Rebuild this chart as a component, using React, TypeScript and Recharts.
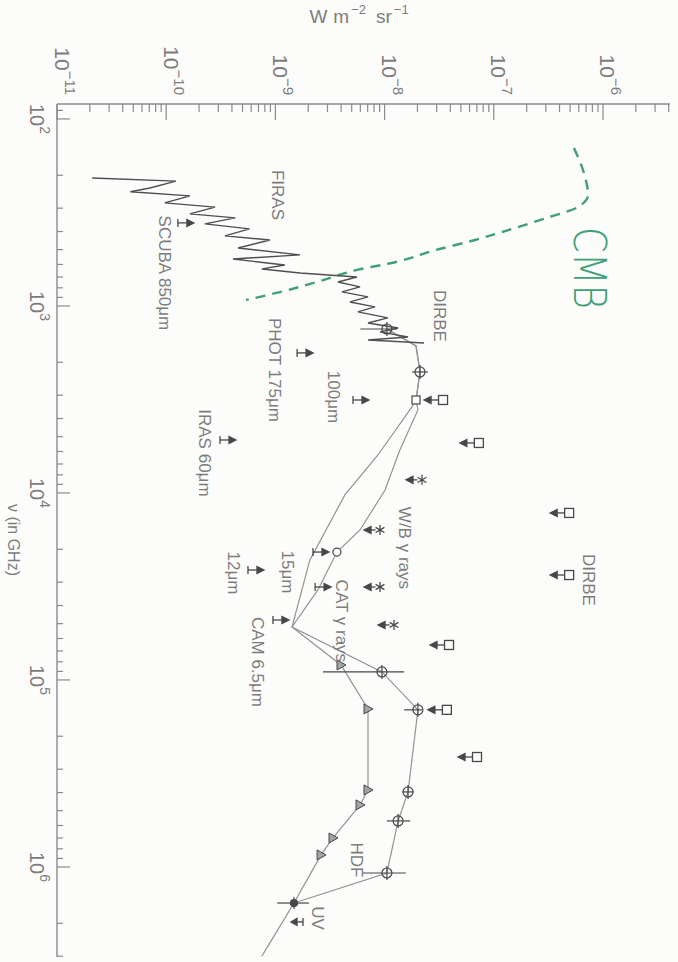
import React from 'react';
import { ComposedChart, Line, Scatter, XAxis, YAxis, ErrorBar } from 'recharts';

// Figure is a scanned plot turned 90° clockwise: we draw it upright and rotate the whole chart.
const FONT = '"Liberation Sans", Arial, sans-serif';
const INK = '#474747';
const CURVE = '#939393';
const FRAME = '#8a8a8a';
const TEXT = '#7c7c7c';
const CMB_GREEN = '#3f9f78';
const BG = '#fcfcfa';

// axis ranges (log scales)
const NU_MIN = 83.2;
const NU_MAX = 3.03e6;
const I_MIN = 1e-11;
const I_MAX = 4.11e-6;

const nuMajor = [1e2, 1e3, 1e4, 1e5, 1e6];
const nuMajorLabels = ['2', '3', '4', '5', '6'];
const iMajor = [1e-11, 1e-10, 1e-9, 1e-8, 1e-7, 1e-6];
const iMajorLabels = ['−11', '−10', '−9', '−8', '−7', '−6'];

// FIRAS spectrum (GHz, W m^-2 sr^-1)
const firasNu = [207, 215, 234, 245, 258, 281, 296, 322, 338, 364, 387, 422, 444, 490, 533, 561, 604, 634, 666, 700, 745, 791, 841, 895, 952, 1012, 1076, 1159, 1233, 1312, 1377, 1465, 1520, 1578];
const firasI = [2.1e-11, 1.23e-10, 7.1e-11, 4.7e-11, 1.65e-10, 9.7e-11, 2.8e-10, 1.65e-10, 4.3e-10, 2.26e-10, 5.8e-10, 3.45e-10, 8.9e-10, 4.55e-10, 1.68e-9, 4.09e-10, 1.22e-9, 7.53e-10, 1.68e-9, 5.58e-9, 3.74e-9, 5.96e-9, 4.07e-9, 7.05e-9, 4.82e-9, 8.17e-9, 5.7e-9, 1.07e-8, 7.05e-9, 1.33e-8, 9.08e-9, 1.64e-8, 7.05e-9, 2.3e-8];

// hand-drawn CMB curve
const cmbNu = [143, 195, 255, 296, 334, 383, 444, 502, 582, 642, 745, 841, 929];
const cmbI = [5.42e-7, 6.7e-7, 7.3e-7, 5.9e-7, 3.27e-7, 1.56e-7, 6.73e-8, 2.96e-8, 1.27e-8, 5.58e-9, 2.4e-9, 1.12e-9, 5.38e-10];

// model curves
const upperNu = [1328, 1636, 2254, 3183, 3597, 5888, 9637, 15770, 20700, 33000, 52100, 90600, 144500, 397000, 567500, 1077000, 1559000];
const upperI = [1.05e-8, 1.94e-8, 2.11e-8, 1.94e-8, 2.02e-8, 1.38e-8, 1.01e-8, 5.96e-9, 3.66e-9, 2.45e-9, 1.42e-9, 9.46e-9, 2.02e-8, 1.64e-8, 1.33e-8, 1.05e-8, 1.48e-9];
const lowerNu = [1328, 1636, 2254, 3183, 3467, 6266, 10250, 22810, 52100, 83180, 142900, 387300, 465600, 699800, 862400, 1559000, 2547000, 3000000];
const lowerI = [1.05e-8, 1.94e-8, 2.11e-8, 1.94e-8, 1.78e-8, 8.7e-9, 4.33e-9, 2.07e-9, 1.42e-9, 3.99e-9, 7.05e-9, 7.05e-9, 5.96e-9, 3.37e-9, 2.62e-9, 1.48e-9, 8.9e-10, 7.5e-10];

// DIRBE upper limits
const dirbeUlNu = [3183, 5404, 12790, 27470, 65000, 144500, 258200];
const dirbeUlI = [3.43e-8, 7.3e-8, 4.9e-7, 4.9e-7, 3.89e-8, 3.72e-8, 7.02e-8];

// gamma-ray upper limits
const gammaNu = [8511, 15770, 31840, 50800];
const gammaI = [2.2e-8, 9.08e-9, 9.08e-9, 1.22e-8];

// lower limits from source counts
const lowLimNu = [360, 1783, 3183, 5209, 20700, 25820, 31840, 47780];
const lowLimI = [1.28e-10, 1.58e-9, 5.14e-9, 3.11e-10, 2.21e-9, 5.61e-10, 2.31e-9, 9.5e-10];

// detections with error bars
const detNu = [1328, 2254, 90600, 144500, 397000, 567500, 1077000];
const detI = [1.05e-8, 2.11e-8, 9.46e-9, 2.02e-8, 1.64e-8, 1.33e-8, 1.05e-8];
const detLo = [6.0e-9, 1.78e-8, 2.73e-9, 1.51e-8, 1.45e-8, 1.05e-8, 6.34e-9];
const detHi = [1.3e-8, 2.5e-8, 1.51e-8, 2.2e-8, 1.85e-8, 1.72e-8, 1.57e-8];

// triangles along lower curve
const triNu = [83180, 142900, 387300, 465600, 699800, 862400];
const triI = [3.99e-9, 7.05e-9, 7.05e-9, 5.96e-9, 3.37e-9, 2.62e-9];

// UV
const uvNu = [1559000];
const uvI = [1.48e-9];
const uvLo = [1.04e-9];
const uvHi = [2.03e-9];
const uvUlNu = [1968000];
const uvUlI = [1.79e-9];

// open model markers
const openCircleNu = [20700];
const openCircleI = [3.66e-9];
const openSquareNu = [3183];
const openSquareI = [1.94e-8];

// annotations
const labelText = ['FIRAS', 'SCUBA 850μm', 'DIRBE', 'PHOT 175μm', '100μm', 'IRAS 60μm', 'W/B γ rays', '15μm', '12μm', 'CAT γ rays', 'CAM 6.5μm', 'DIRBE', 'HDF', 'UV'];
const labelNu = [255, 666, 1131, 2198, 3067, 6109, 19680, 26450, 26790, 48310, 80140, 29190, 918000, 1875000];
const labelI = [1.04e-9, 9.7e-11, 3.21e-8, 9.9e-10, 3.37e-9, 2.22e-10, 1.51e-8, 1.3e-9, 4.09e-10, 3.99e-9, 6.8e-10, 7.3e-7, 5.58e-9, 2.45e-9];

const pts = (nu: number[], I: number[]) => nu.map((n, i) => ({ nu: n, I: I[i] }));

function minorTicks(lo: number, hi: number) {
  const out: number[] = [];
  for (let e = Math.floor(Math.log10(lo)); e <= Math.ceil(Math.log10(hi)); e++) {
    for (let m = 2; m <= 9; m++) {
      const v = Number((m * Math.pow(10, e)).toPrecision(6));
      if (v > lo && v < hi) out.push(v);
    }
  }
  return out;
}
const nuTicks = [...nuMajor, ...minorTicks(NU_MIN, NU_MAX)].sort((a, b) => a - b);
const iTicks = [...iMajor, ...minorTicks(I_MIN, I_MAX)].sort((a, b) => a - b);
const majorIdx = (list: number[], v: number) => list.findIndex((m) => Math.abs(m / v - 1) < 1e-6);

const NuBottomTick = (p: any) => {
  const k = majorIdx(nuMajor, p.payload.value);
  return (
    <g>
      <line x1={p.x} y1={p.y} x2={p.x} y2={p.y - (k >= 0 ? 13 : 6)} stroke={FRAME} strokeWidth={1.2} />
      {k >= 0 && (
        <text x={p.x} y={p.y + 20} textAnchor="middle" dominantBaseline="central" fontFamily={FONT} fontSize={20} fill={TEXT}>
          10<tspan dy={-8} fontSize={14}>{nuMajorLabels[k]}</tspan>
        </text>
      )}
    </g>
  );
};

const NuTopTick = (p: any) => {
  const k = majorIdx(nuMajor, p.payload.value);
  return <line x1={p.x} y1={p.y} x2={p.x} y2={p.y + (k >= 0 ? 13 : 6)} stroke={FRAME} strokeWidth={1.2} />;
};

const ILeftTick = (p: any) => {
  const k = majorIdx(iMajor, p.payload.value);
  return (
    <g>
      <line x1={p.x} y1={p.y} x2={p.x + (k >= 0 ? 16 : 8)} y2={p.y} stroke={FRAME} strokeWidth={1.2} />
      {k >= 0 && (
        <text x={p.x - 9} y={p.y - 5} textAnchor="end" dominantBaseline="central" fontFamily={FONT} fontSize={21} fill={TEXT}>
          10<tspan dy={-9} fontSize={15}>{iMajorLabels[k]}</tspan>
        </text>
      )}
    </g>
  );
};

const IRightTick = (p: any) => {
  const k = majorIdx(iMajor, p.payload.value);
  return <line x1={p.x} y1={p.y} x2={p.x - (k >= 0 ? 16 : 8)} y2={p.y} stroke={FRAME} strokeWidth={1.2} />;
};

const NuTitle = () => (
  <text x={540} y={665} textAnchor="middle" dominantBaseline="central" fontFamily={FONT} fontSize={16} fill={TEXT}>
    ν (in GHz)
  </text>
);

const ITitle = () => (
  <text x={16} y={319} transform="rotate(-90 16 319)" textAnchor="middle" dominantBaseline="central" fontFamily={FONT} fontSize={19} fill={TEXT}>
    W<tspan dx={6}>m</tspan>
    <tspan dx={2} dy={-7} fontSize={13}>−2</tspan>
    <tspan dx={10} dy={7}>sr</tspan>
    <tspan dx={2} dy={-7} fontSize={13}>−1</tspan>
  </text>
);

const UpperSquare = ({ cx, cy }: any) => (
  <g stroke={INK} strokeWidth={1.3}>
    <rect x={cx - 4.5} y={cy - 4.5} width={9} height={9} fill="none" />
    <line x1={cx} y1={cy + 4.5} x2={cx} y2={cy + 13} />
    <path d={`M${cx - 3.5},${cy + 12} L${cx + 3.5},${cy + 12} L${cx},${cy + 19} Z`} fill={INK} />
  </g>
);

const UpperStar = ({ cx, cy }: any) => (
  <g stroke={INK} strokeWidth={1.3}>
    <line x1={cx - 5} y1={cy} x2={cx + 5} y2={cy} />
    <line x1={cx - 2.6} y1={cy - 4.4} x2={cx + 2.6} y2={cy + 4.4} />
    <line x1={cx + 2.6} y1={cy - 4.4} x2={cx - 2.6} y2={cy + 4.4} />
    <line x1={cx} y1={cy + 4.5} x2={cx} y2={cy + 10} />
    <path d={`M${cx - 3.5},${cy + 9} L${cx + 3.5},${cy + 9} L${cx},${cy + 16} Z`} fill={INK} />
  </g>
);

const LowerLimit = ({ cx, cy }: any) => (
  <g stroke={INK} strokeWidth={1.3}>
    <line x1={cx - 4} y1={cy} x2={cx + 4} y2={cy} />
    <line x1={cx} y1={cy} x2={cx} y2={cy - 9} />
    <path d={`M${cx - 3.5},${cy - 9} L${cx + 3.5},${cy - 9} L${cx},${cy - 16} Z`} fill={INK} />
  </g>
);

const UpperBar = ({ cx, cy }: any) => (
  <g stroke={INK} strokeWidth={1.3}>
    <line x1={cx - 4} y1={cy} x2={cx + 4} y2={cy} />
    <line x1={cx} y1={cy} x2={cx} y2={cy + 6} />
    <path d={`M${cx - 3.5},${cy + 6} L${cx + 3.5},${cy + 6} L${cx},${cy + 12} Z`} fill={INK} />
  </g>
);

const CirclePlus = ({ cx, cy }: any) => (
  <g stroke={INK} strokeWidth={1.2} fill="none">
    <circle cx={cx} cy={cy} r={5} />
    <line x1={cx - 7} y1={cy} x2={cx + 7} y2={cy} />
  </g>
);

const Tri = ({ cx, cy }: any) => (
  <path d={`M${cx},${cy - 5} L${cx + 5},${cy + 4} L${cx - 5},${cy + 4} Z`} fill="#a3a3a3" stroke={INK} strokeWidth={1} />
);

const UvDot = ({ cx, cy }: any) => (
  <g stroke={INK} strokeWidth={1.2}>
    <circle cx={cx} cy={cy} r={3.5} fill={INK} />
    <line x1={cx - 6} y1={cy} x2={cx + 6} y2={cy} />
  </g>
);

const OpenCircle = ({ cx, cy }: any) => <circle cx={cx} cy={cy} r={4} fill={BG} stroke={INK} strokeWidth={1.2} />;
const OpenSquare = ({ cx, cy }: any) => (
  <rect x={cx - 4} y={cy - 4} width={8} height={8} fill={BG} stroke={INK} strokeWidth={1.2} />
);

const LabelShape = ({ cx, cy, payload }: any) => (
  <text x={cx} y={cy} textAnchor="middle" dominantBaseline="central" fontFamily={FONT} fontSize={17} fill={TEXT}>
    {payload.text}
  </text>
);

const CmbLabel = ({ cx, cy }: any) => (
  <text x={cx} y={cy} textAnchor="middle" dominantBaseline="central" fontFamily='"DejaVu Sans", sans-serif' fontWeight={200} fontSize={44} textLength={82} lengthAdjust="spacingAndGlyphs" fill={CMB_GREEN}>
    CMB
  </text>
);

export default function App() {
  const firas = pts(firasNu, firasI);
  const cmb = pts(cmbNu, cmbI);
  const upper = pts(upperNu, upperI);
  const lower = pts(lowerNu, lowerI);
  const det = detNu.map((n, i) => ({ nu: n, I: detI[i], err: [detI[i] - detLo[i], detHi[i] - detI[i]] }));
  const uv = uvNu.map((n, i) => ({ nu: n, I: uvI[i], err: [uvI[i] - uvLo[i], uvHi[i] - uvI[i]] }));
  const labels = labelText.map((t, i) => ({ text: t, nu: labelNu[i], I: labelI[i] }));

  const axisLine = { stroke: FRAME, strokeWidth: 1.4 };

  return (
    <div style={{ position: 'absolute', left: 0, top: 0, width: 678, height: 962, overflow: 'hidden', background: BG }}>
      <style>{`body{margin:0;background:${BG}}`}</style>
      <div style={{ position: 'absolute', left: 0, top: 0, width: 962, height: 678, transform: 'translate(678px,0) rotate(90deg)', transformOrigin: '0 0' }}>
        <ComposedChart width={962} height={678} margin={{ top: 8, right: 5, bottom: 0, left: 0 }}>
          <XAxis xAxisId="nu" dataKey="nu" type="number" scale="log" domain={[NU_MIN, NU_MAX]} allowDataOverflow ticks={nuTicks} interval={0} tick={NuBottomTick} tickLine={false} tickSize={0} tickMargin={0} axisLine={axisLine} height={57} label={NuTitle} />
          <XAxis xAxisId="nuTop" orientation="top" dataKey="nu" type="number" scale="log" domain={[NU_MIN, NU_MAX]} allowDataOverflow ticks={nuTicks} interval={0} tick={NuTopTick} tickLine={false} tickSize={0} tickMargin={0} axisLine={axisLine} height={0} />
          <YAxis yAxisId="I" dataKey="I" type="number" scale="log" domain={[I_MIN, I_MAX]} allowDataOverflow ticks={iTicks} interval={0} tick={ILeftTick} tickLine={false} tickSize={0} tickMargin={0} axisLine={axisLine} width={104} label={ITitle} />
          <YAxis yAxisId="Iright" orientation="right" dataKey="I" type="number" scale="log" domain={[I_MIN, I_MAX]} allowDataOverflow ticks={iTicks} interval={0} tick={IRightTick} tickLine={false} tickSize={0} tickMargin={0} axisLine={axisLine} width={0} />

          <Line xAxisId="nu" yAxisId="I" data={cmb} dataKey="I" type="monotone" dot={false} activeDot={false} stroke={CMB_GREEN} strokeWidth={2.4} strokeDasharray="10 7" isAnimationActive={false} />
          <Line xAxisId="nu" yAxisId="I" data={upper} dataKey="I" type="linear" dot={false} activeDot={false} stroke={CURVE} strokeWidth={1.2} isAnimationActive={false} />
          <Line xAxisId="nu" yAxisId="I" data={lower} dataKey="I" type="linear" dot={false} activeDot={false} stroke={CURVE} strokeWidth={1.2} isAnimationActive={false} />
          <Line xAxisId="nu" yAxisId="I" data={firas} dataKey="I" type="linear" dot={false} activeDot={false} stroke="#4f4f4f" strokeWidth={1.4} isAnimationActive={false} />

          <Scatter xAxisId="nu" yAxisId="I" data={pts(dirbeUlNu, dirbeUlI)} shape={UpperSquare} isAnimationActive={false} />
          <Scatter xAxisId="nu" yAxisId="I" data={pts(gammaNu, gammaI)} shape={UpperStar} isAnimationActive={false} />
          <Scatter xAxisId="nu" yAxisId="I" data={pts(lowLimNu, lowLimI)} shape={LowerLimit} isAnimationActive={false} />
          <Scatter xAxisId="nu" yAxisId="I" data={pts(triNu, triI)} shape={Tri} isAnimationActive={false} />
          <Scatter xAxisId="nu" yAxisId="I" data={det} shape={CirclePlus} isAnimationActive={false}>
            <ErrorBar dataKey="err" direction="y" width={0} stroke={INK} strokeWidth={1.2} isAnimationActive={false} />
          </Scatter>
          <Scatter xAxisId="nu" yAxisId="I" data={uv} shape={UvDot} isAnimationActive={false}>
            <ErrorBar dataKey="err" direction="y" width={0} stroke={INK} strokeWidth={1.2} isAnimationActive={false} />
          </Scatter>
          <Scatter xAxisId="nu" yAxisId="I" data={pts(uvUlNu, uvUlI)} shape={UpperBar} isAnimationActive={false} />
          <Scatter xAxisId="nu" yAxisId="I" data={pts(openCircleNu, openCircleI)} shape={OpenCircle} isAnimationActive={false} />
          <Scatter xAxisId="nu" yAxisId="I" data={pts(openSquareNu, openSquareI)} shape={OpenSquare} isAnimationActive={false} />

          <Scatter xAxisId="nu" yAxisId="I" data={labels} shape={LabelShape} isAnimationActive={false} />
          <Scatter xAxisId="nu" yAxisId="I" data={[{ nu: 627, I: 7.6e-7 }]} shape={CmbLabel} isAnimationActive={false} />
        </ComposedChart>
      </div>
    </div>
  );
}
